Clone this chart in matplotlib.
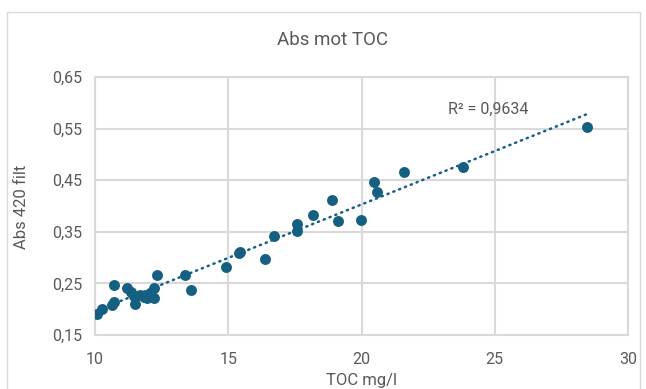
import matplotlib
matplotlib.use("Agg")
import matplotlib.pyplot as plt
import numpy as np
from matplotlib.patches import Rectangle

toc = [10.09, 10.27, 10.63, 10.72, 10.71, 11.20, 11.35, 11.49, 11.48, 11.68,
       11.84, 11.94, 12.06, 12.20, 12.20, 12.31, 13.37, 13.60, 14.90, 15.40,
       15.43, 16.38, 16.70, 17.58, 17.58, 18.19, 18.88, 19.10, 19.98, 20.48,
       20.59, 21.58, 23.80, 28.47]
absv = [0.190, 0.201, 0.209, 0.213, 0.246, 0.241, 0.234, 0.211, 0.226, 0.228,
        0.223, 0.222, 0.232, 0.241, 0.221, 0.266, 0.266, 0.237, 0.282, 0.309,
        0.311, 0.297, 0.342, 0.365, 0.352, 0.382, 0.412, 0.371, 0.372, 0.446,
        0.428, 0.465, 0.475, 0.553]

title = "Abs mot TOC"
xlabel = "TOC mg/l"
ylabel = "Abs 420 filt"
r2_text = "R² = 0,9634"
xticks = [10, 15, 20, 25, 30]
yticks = [0.15, 0.25, 0.35, 0.45, 0.55, 0.65]
ytick_labels = ["0,15", "0,25", "0,35", "0,45", "0,55", "0,65"]

plt.rcParams['font.family'] = ['Roboto', 'DejaVu Sans']
color = '#156082'
grey_txt = '#595959'
grid_c = '#d9d9d9'

fig = plt.figure(figsize=(6.46, 3.89), dpi=100)
W, H = 646, 389
# outer chart border
fig.patches.append(Rectangle((7 / W, -0.1), (640 - 7) / W, 1.1 - 12 / H,
                             transform=fig.transFigure, fill=False,
                             edgecolor='#d9d9d9', linewidth=1.0))

ax = fig.add_axes([95 / W, 1 - 335 / H, (628 - 95) / W, (335 - 77) / H])
ax.set_xlim(10, 30)
ax.set_ylim(0.15, 0.65)
ax.set_xticks(xticks)
ax.set_yticks(yticks)
ax.set_yticklabels(ytick_labels)
ax.grid(True, color=grid_c, linewidth=1.5)
ax.set_axisbelow(True)
for s in ax.spines.values():
    s.set_color(grid_c)
    s.set_linewidth(1.5)
ax.tick_params(length=0, labelsize=11.5, colors=grey_txt)
ax.tick_params(axis='y', pad=9)
ax.tick_params(axis='x', pad=12)

x = np.array(toc)
y = np.array(absv)
ax.scatter(x, y, s=62, color=color, zorder=3, linewidths=0)

k, m = np.polyfit(x, y, 1)
xs = np.array([x.min(), x.max()])
ax.plot(xs, k * xs + m, linestyle=(0, (0.5, 2.0)), color=color,
        linewidth=1.8, dash_capstyle='round', zorder=2)

ax.text(24.75, 0.588, r2_text, ha='center', va='center', fontsize=11.5,
        color=grey_txt)

fig.text(332 / W, 1 - 40 / H, title, ha='center', va='center',
         fontsize=13.5, color=grey_txt)
fig.text(22 / W, 1 - 207 / H, ylabel, ha='center', va='center',
         rotation=90, fontsize=12, color=grey_txt)
fig.text(362 / W, 1 - 380 / H, xlabel, ha='center', va='center',
         fontsize=12, color=grey_txt)

fig.savefig('out.png', dpi=100)
